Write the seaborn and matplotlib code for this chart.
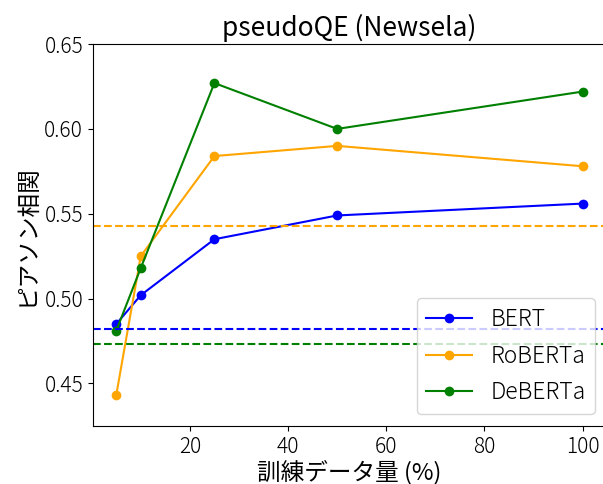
import pandas as pd
import matplotlib
matplotlib.use('Agg')
import matplotlib.pyplot as plt
import seaborn as sns

plt.rcParams['font.family'] = ['Noto Sans CJK JP', 'DejaVu Sans']
plt.rcParams['font.weight'] = 'light'

train_pct = [5, 10, 25, 50, 100]
bert    = [0.485, 0.502, 0.535, 0.549, 0.556]
roberta = [0.443, 0.525, 0.584, 0.590, 0.578]
deberta = [0.481, 0.518, 0.627, 0.600, 0.622]

# baselines (dashed)
base_bert    = 0.482
base_roberta = 0.543
base_deberta = 0.473

models = ['BERT', 'RoBERTa', 'DeBERTa']
colors = {'BERT': 'blue', 'RoBERTa': 'orange', 'DeBERTa': 'green'}

df = pd.concat([
    pd.DataFrame({'pct': train_pct, 'score': bert, 'model': 'BERT'}),
    pd.DataFrame({'pct': train_pct, 'score': roberta, 'model': 'RoBERTa'}),
    pd.DataFrame({'pct': train_pct, 'score': deberta, 'model': 'DeBERTa'}),
])

fig = plt.figure(figsize=(6.03, 4.84), dpi=100)
ax = fig.add_axes([0.154, 0.12, 0.851, 0.789])

sns.lineplot(data=df, x='pct', y='score', hue='model', hue_order=models,
             palette=colors, marker='o', markersize=7, markeredgewidth=0,
             linewidth=1.5, ax=ax)

ax.axhline(base_bert, color='blue', linestyle='--', linewidth=1.5)
ax.axhline(base_roberta, color='orange', linestyle='--', linewidth=1.5)
ax.axhline(base_deberta, color='green', linestyle='--', linewidth=1.5)

ax.set_ylim(0.425, 0.65)
ax.set_yticks([0.45, 0.50, 0.55, 0.60, 0.65])
ax.tick_params(labelsize=15)
ax.set_title('pseudoQE (Newsela)', fontsize=19)
ax.set_xlabel('訓練データ量 (%)', fontsize=17, labelpad=2)
ax.set_ylabel('ピアソン相関', fontsize=17)
ax.legend(loc='lower right', fontsize=16.5)

plt.savefig('out.png', dpi=100)
